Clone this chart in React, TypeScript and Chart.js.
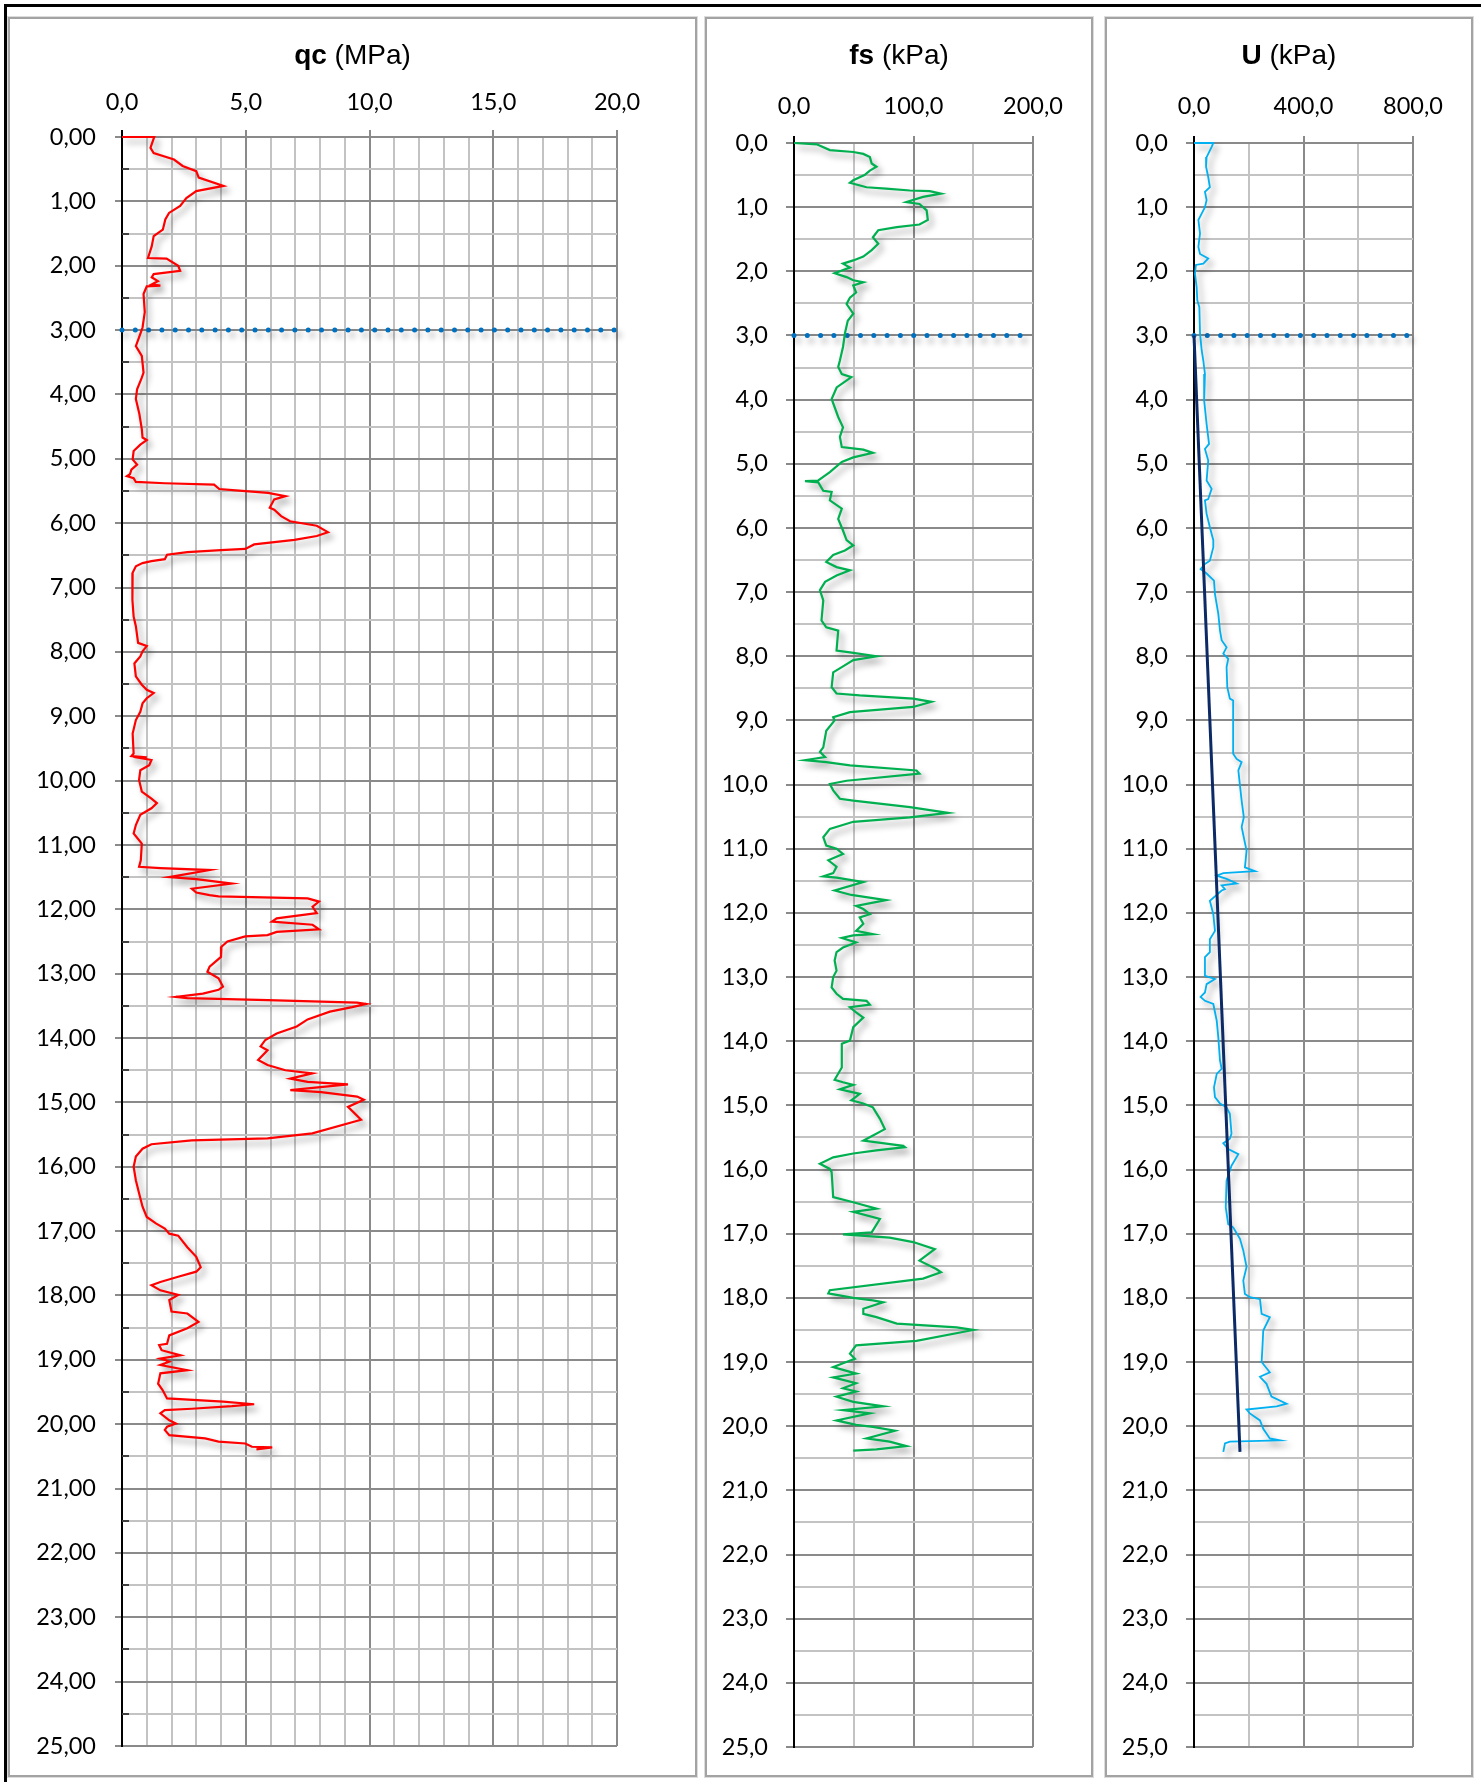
import React, { useEffect, useRef } from 'react';
import { Chart, registerables } from 'chart.js';

Chart.register(...registerables);

// ---- Cone resistance qc (MPa) vs depth (m) ----
const QC_DEPTH = [
  0.0, 0.0, 0.17, 0.25, 0.35, 0.45, 0.53, 0.63, 0.76, 0.84, 0.95, 1.07, 1.18, 1.28, 1.44, 1.54, 1.7, 1.88, 1.89, 2.0,
  2.08, 2.13, 2.18, 2.24, 2.29, 2.31, 2.32, 2.44, 2.72, 2.96, 3.06, 3.25, 3.4, 3.66, 3.74, 3.92, 4.07, 4.3, 4.54, 4.67,
  4.71, 4.78, 4.88, 5.01, 5.09, 5.17, 5.24, 5.27, 5.3, 5.36, 5.38, 5.4, 5.47, 5.49, 5.53, 5.58, 5.63, 5.76, 5.79, 5.89,
  5.97, 6.04, 6.14, 6.2, 6.26, 6.33, 6.4, 6.42, 6.45, 6.49, 6.56, 6.59, 6.62, 6.67, 6.77, 7.19, 7.45, 7.6, 7.86, 7.91,
  7.99, 8.07, 8.18, 8.38, 8.51, 8.59, 8.64, 8.72, 8.8, 8.93, 9.06, 9.27, 9.58, 9.62, 9.64, 9.65, 9.68, 9.76, 9.84, 9.99,
  10.17, 10.28, 10.35, 10.43, 10.53, 10.69, 10.82, 10.98, 11.24, 11.34, 11.36, 11.39, 11.5, 11.53, 11.6, 11.68, 11.74, 11.78, 11.8, 11.83,
  11.88, 11.96, 12.06, 12.14, 12.19, 12.24, 12.31, 12.35, 12.4, 12.42, 12.5, 12.58, 12.74, 12.89, 12.97, 13.07, 13.2, 13.25, 13.31, 13.36,
  13.38, 13.41, 13.45, 13.47, 13.52, 13.59, 13.71, 13.82, 13.93, 14.03, 14.13, 14.19, 14.34, 14.42, 14.5, 14.55, 14.63, 14.68, 14.72, 14.81,
  14.84, 14.91, 14.96, 15.07, 15.17, 15.27, 15.48, 15.56, 15.59, 15.65, 15.72, 15.84, 16.0, 16.21, 16.41, 16.62, 16.78, 16.88, 16.96, 17.04,
  17.07, 17.25, 17.4, 17.56, 17.63, 17.71, 17.79, 17.84, 17.92, 17.99, 18.07, 18.25, 18.28, 18.41, 18.51, 18.62, 18.75, 18.77, 18.85, 18.93,
  18.98, 19.0, 19.03, 19.08, 19.16, 19.21, 19.37, 19.47, 19.6, 19.65, 19.69, 19.72, 19.76, 19.78, 19.83, 19.94, 19.99, 20.04, 20.09, 20.17,
  20.22, 20.27, 20.3, 20.35, 20.36, 20.39,
];
const QC_VALUE = [
  0.0, 1.3, 1.15, 1.28, 2.1, 2.45, 3.0, 3.1, 4.1, 3.0, 2.6, 2.35, 1.9, 1.75, 1.65, 1.28, 1.2, 1.05, 1.8, 2.27,
  2.35, 1.28, 1.2, 1.45, 1.2, 1.55, 1.0, 0.87, 0.92, 0.83, 0.74, 0.56, 0.8, 0.87, 0.8, 0.61, 0.56, 0.7, 0.8, 0.83,
  1.0, 0.74, 0.47, 0.43, 0.61, 0.38, 0.32, 0.2, 0.47, 0.56, 1.73, 3.72, 3.93, 4.6, 5.9, 6.6, 6.15, 5.97, 6.15, 6.43,
  6.79, 7.87, 8.32, 7.87, 6.97, 5.34, 4.98, 4.0, 2.64, 1.82, 1.73, 1.19, 0.83, 0.56, 0.43, 0.42, 0.47, 0.56, 0.65, 1.0,
  0.83, 0.74, 0.5, 0.56, 0.8, 1.0, 1.28, 1.0, 0.83, 0.74, 0.56, 0.43, 0.47, 0.38, 1.0, 0.74, 1.19, 1.1, 0.74, 0.69,
  0.8, 1.19, 1.41, 1.19, 0.74, 0.56, 0.47, 0.8, 0.76, 0.69, 1.55, 3.54, 1.91, 3.0, 4.44, 2.82, 3.0, 3.54, 3.9, 7.5,
  7.96, 7.7, 7.87, 6.25, 6.06, 7.7, 7.96, 6.25, 5.88, 4.98, 4.26, 4.02, 4.0, 3.54, 3.45, 3.9, 4.08, 3.9, 3.27, 2.18,
  2.64, 5.88, 9.5, 9.86, 9.3, 8.4, 7.5, 7.06, 6.25, 5.79, 5.6, 5.88, 5.5, 5.88, 6.6, 7.69, 6.8, 7.5, 9.13, 6.8,
  8.05, 9.5, 9.77, 9.13, 9.4, 9.66, 7.69, 5.88, 2.82, 1.19, 0.83, 0.56, 0.47, 0.56, 0.69, 0.83, 1.0, 1.37, 1.73, 1.91,
  2.27, 2.64, 3.0, 3.18, 3.0, 2.27, 1.55, 1.19, 1.55, 2.27, 1.91, 2.0, 2.64, 3.09, 2.64, 1.91, 1.82, 1.5, 1.6, 2.36,
  1.55, 1.73, 1.91, 1.55, 2.64, 1.55, 1.46, 1.64, 1.82, 4.08, 5.34, 4.44, 2.82, 1.73, 1.55, 1.91, 2.18, 1.82, 1.73, 1.91,
  3.36, 3.9, 4.98, 5.25, 6.07, 5.43,
];

// ---- Sleeve friction fs (kPa) vs depth (m) ----
const FS_DEPTH = [
  0.0, 0.02, 0.11, 0.14, 0.17, 0.22, 0.32, 0.37, 0.43, 0.5, 0.58, 0.62, 0.69, 0.71, 0.74, 0.75, 0.79, 0.84, 0.92, 0.95,
  1.05, 1.2, 1.27, 1.31, 1.36, 1.47, 1.57, 1.67, 1.77, 1.83, 1.88, 1.94, 2.03, 2.09, 2.14, 2.17, 2.22, 2.33, 2.41, 2.51,
  2.66, 2.77, 2.97, 3.18, 3.39, 3.49, 3.6, 3.65, 3.81, 3.99, 4.27, 4.43, 4.58, 4.74, 4.78, 4.83, 4.9, 4.97, 5.13, 5.26,
  5.27, 5.29, 5.42, 5.44, 5.57, 5.7, 5.86, 6.04, 6.19, 6.27, 6.35, 6.42, 6.53, 6.61, 6.66, 6.74, 6.84, 6.97, 7.13, 7.44,
  7.55, 7.6, 7.91, 7.94, 8.0, 8.06, 8.17, 8.25, 8.48, 8.58, 8.61, 8.66, 8.71, 8.79, 8.87, 8.95, 9.0, 9.16, 9.42, 9.49,
  9.57, 9.62, 9.65, 9.7, 9.78, 9.83, 9.94, 9.99, 10.09, 10.22, 10.25, 10.35, 10.44, 10.51, 10.58, 10.69, 10.82, 10.95, 11.0, 11.08,
  11.18, 11.28, 11.38, 11.43, 11.45, 11.52, 11.65, 11.72, 11.8, 11.89, 11.94, 12.02, 12.07, 12.17, 12.28, 12.33, 12.35, 12.39, 12.46, 12.54,
  12.61, 12.74, 12.9, 13.0, 13.16, 13.26, 13.34, 13.37, 13.43, 13.47, 13.55, 13.63, 13.78, 13.99, 14.04, 14.41, 14.6, 14.64, 14.68, 14.75,
  14.82, 14.92, 14.97, 15.03, 15.21, 15.37, 15.55, 15.63, 15.65, 15.7, 15.75, 15.81, 15.91, 15.99, 16.04, 16.43, 16.51, 16.61, 16.66, 16.77,
  16.98, 17.01, 17.06, 17.13, 17.24, 17.42, 17.55, 17.6, 17.7, 17.88, 17.93, 18.0, 18.04, 18.07, 18.17, 18.25, 18.3, 18.4, 18.46, 18.5,
  18.67, 18.74, 18.87, 18.95, 19.02, 19.08, 19.18, 19.24, 19.33, 19.41, 19.46, 19.54, 19.62, 19.69, 19.75, 19.8, 19.91, 19.98, 20.01, 20.07,
  20.19, 20.24, 20.31, 20.36, 20.38,
];
const FS_VALUE = [
  0, 19, 30, 49.6, 58, 63.5, 65, 69, 63.5, 59, 49.6, 46.8, 60.7, 77, 97, 113.6, 123, 108, 94, 105,
  111, 112, 105, 86, 70.5, 66, 70.5, 65, 58, 49.6, 41, 46.8, 34, 44, 49.6, 58, 49.6, 52, 46.8, 44,
  49.6, 45, 42.6, 41, 38.4, 37, 40, 48, 35.7, 31.5, 37, 41, 38.4, 40, 58, 66, 49.6, 40, 30, 20.3,
  9.2, 20.3, 24.5, 31.5, 30, 40, 37, 41, 44, 49.6, 42.6, 32.8, 27, 35.6, 46.8, 35.6, 26, 21.7, 24.5, 23,
  27, 37, 35.6, 46.8, 69, 49.6, 40, 32.8, 31.5, 35.6, 55, 99.7, 115, 99.7, 46.8, 32.8, 34, 27, 24.5, 21.7,
  26, 9.2, 27, 46.8, 102.5, 105, 44, 30, 32.8, 38.4, 49.6, 97, 129, 97, 49.6, 30, 24.5, 27, 35.6, 41,
  28.7, 35.6, 32.8, 24.5, 35.6, 58, 34, 48, 77, 52, 58, 63.5, 55, 58, 52, 66, 49.6, 40, 52, 41,
  35.6, 34, 35.6, 32.8, 31.5, 35.6, 41, 60.7, 63.5, 46.8, 52, 58, 49.6, 46.8, 40, 40, 34, 41, 49.6, 38.4,
  55, 48, 58, 66, 71.9, 76, 58, 91.4, 92.8, 69, 49.6, 32.8, 21.7, 30, 31.5, 32.8, 49.6, 69, 49.6, 71.9,
  65, 41, 80, 99.7, 117.8, 105, 119, 123, 108, 30, 28.7, 49.6, 66, 74.6, 58, 58, 69, 86, 136, 150,
  102.5, 52, 46.8, 51, 41, 32.8, 52, 32.8, 52, 41, 52, 35.6, 49.6, 74.6, 41, 63.5, 35.6, 52, 66, 84.4,
  60.7, 80, 94, 69, 49.6,
];

// ---- Pore pressure U (kPa) vs depth (m) ----
const U_DEPTH = [
  0.0, 0.0, 0.06, 0.22, 0.37, 0.53, 0.69, 0.76, 0.89, 1.0, 1.1, 1.2, 1.41, 1.62, 1.73, 1.8, 1.88, 1.9, 2.04, 2.25,
  2.45, 2.56, 2.97, 3.23, 3.39, 3.6, 4.01, 4.38, 4.69, 4.77, 4.95, 5.26, 5.39, 5.55, 5.57, 5.78, 5.99, 6.19, 6.3, 6.51,
  6.56, 6.64, 6.71, 6.82, 7.03, 7.34, 7.6, 7.75, 7.86, 7.96, 8.04, 8.17, 8.48, 8.66, 8.69, 9.52, 9.6, 9.65, 9.78, 10.25,
  10.51, 10.66, 11.03, 11.29, 11.35, 11.38, 11.42, 11.47, 11.54, 11.57, 11.63, 11.65, 11.81, 12.02, 12.28, 12.41, 12.61, 12.69, 12.98, 13.03,
  13.11, 13.24, 13.31, 13.37, 13.42, 13.68, 13.94, 14.3, 14.43, 14.51, 14.72, 14.87, 14.97, 15.03, 15.13, 15.44, 15.52, 15.59, 15.68, 15.76,
  15.94, 16.17, 16.59, 16.85, 16.9, 17.08, 17.26, 17.52, 17.73, 17.94, 17.99, 18.02, 18.25, 18.3, 18.51, 18.77, 19.0, 19.16, 19.23, 19.34,
  19.54, 19.65, 19.69, 19.74, 19.8, 19.91, 20.04, 20.19, 20.22, 20.24, 20.27, 20.4,
];
const U_VALUE = [
  0, 70.5, 64.5, 46, 44, 52, 58, 40, 46, 40, 28, 16, 22, 16, 22, 52, 34, 7, 3.6, 9.7,
  12, 19.5, 22, 28, 34, 40, 37, 46, 55, 40, 52, 46, 64.5, 52, 40, 46, 58, 70.5, 70.5, 58,
  40, 24, 46, 73, 76.6, 88.8, 95, 101, 119, 107, 125, 119, 121.6, 131, 143, 143, 155.7, 174, 162, 174,
  182, 174, 192, 186, 222.5, 107, 83, 119, 155.7, 101, 113, 101, 58, 70.5, 76.6, 58, 58, 40, 40, 76.6,
  46, 40, 24, 40, 70.5, 83, 88.8, 95, 101, 83, 73, 76.6, 95, 119, 131, 137, 131, 107, 125, 162,
  137, 119, 116, 125, 143, 168, 180, 192, 180, 186, 204, 241, 247, 277, 253, 250, 247, 277, 241, 265,
  283, 338, 302, 192, 204, 241, 253, 277, 314, 131, 113, 107,
];

// Hydrostatic pressure line below the water table
const U0_DEPTH = [3.0, 20.4];
const U0_VALUE = [0, 168];

// Water table depth (m)
const WATER_TABLE = [3.0, 3.0];

// Axis ranges and tick steps
const DEPTH_RANGE = [0, 25];
const DEPTH_STEP = [0.5, 1];
const QC_RANGE = [0, 20];
const QC_STEP = [1, 5];
const FS_RANGE = [0, 200];
const FS_STEP = [50, 100];
const U_RANGE = [0, 800];
const U_STEP = [200, 400];

const MAJOR_GRID = '#8a8a8a';
const MINOR_GRID = '#c3c3c3';
const TICK_FONT = { family: 'Lato, "Open Sans", sans-serif', size: 23.5 };

const toPoints = (xs: number[], ys: number[]) => xs.map((x, i) => ({ x, y: ys[i] }));
const isMultiple = (v: number, step: number) => Math.abs(v / step - Math.round(v / step)) < 1e-6;
const comma = (v: number, d: number) => Number(v).toFixed(d).replace('.', ',');

// Soft drop shadow under the plotted traces
const shadowPlugin = {
  id: 'traceShadow',
  beforeDatasetDraw(chart: any, args: any) {
    const ds = chart.data.datasets[args.index];
    if (!ds.shadow) return;
    const ctx = chart.ctx;
    ctx.save();
    ctx.shadowColor = 'rgba(0,0,0,0.4)';
    ctx.shadowBlur = 6;
    ctx.shadowOffsetX = 4;
    ctx.shadowOffsetY = 5;
  },
  afterDatasetDraw(chart: any, args: any) {
    const ds = chart.data.datasets[args.index];
    if (!ds.shadow) return;
    chart.ctx.restore();
  },
};

// Short inside tick marks on the depth axis at half metres
const innerTickPlugin = {
  id: 'innerDepthTicks',
  beforeDatasetsDraw(chart: any) {
    if (!chart.options.plugins.innerDepthTicks?.enabled) return;
    const y = chart.scales.y;
    const left = chart.chartArea.left;
    const ctx = chart.ctx;
    ctx.save();
    ctx.strokeStyle = '#404040';
    ctx.lineWidth = 2;
    y.ticks.forEach((t: any) => {
      if (isMultiple(t.value, DEPTH_STEP[1])) return;
      const py = Math.round(y.getPixelForValue(t.value));
      ctx.beginPath();
      ctx.moveTo(left, py);
      ctx.lineTo(left + 7, py);
      ctx.stroke();
    });
    ctx.restore();
  },
};

type PanelSpec = {
  left: number;
  width: number;
  bold: string;
  unit: string;
  range: number[];
  step: number[];
  depthDecimals: number;
  yWidth: number;
  padRight: number;
  topArea: number;
  padBottom: number;
  xTickPad: number;
  yTickLen: number;
  yTickPad: number;
  innerTicks: boolean;
  datasets: any[];
};

const PANEL_TOP = 17;
const PANEL_HEIGHT = 1760;
const BORDER = 2;

function Panel({ spec }: { spec: PanelSpec }) {
  const ref = useRef<HTMLCanvasElement>(null);
  const w = spec.width - 2 * BORDER;
  const h = PANEL_HEIGHT - 2 * BORDER;

  useEffect(() => {
    if (!ref.current) return;
    const [minStep, majStep] = spec.step;
    const chart = new Chart(ref.current, {
      type: 'scatter',
      data: { datasets: spec.datasets },
      plugins: [shadowPlugin, innerTickPlugin],
      options: {
        animation: false,
        responsive: false,
        maintainAspectRatio: false,
        devicePixelRatio: 1,
        events: [],
        layout: { padding: { left: 0, top: 0, right: spec.padRight, bottom: spec.padBottom } },
        plugins: {
          legend: { display: false },
          tooltip: { enabled: false },
          title: { display: false },
          innerDepthTicks: { enabled: spec.innerTicks },
        } as any,
        scales: {
          x: {
            type: 'linear',
            position: 'top',
            min: spec.range[0],
            max: spec.range[1],
            afterFit: (s: any) => {
              s.height = spec.topArea;
              s.paddingLeft = 0;
              s.paddingRight = 0;
            },
            ticks: {
              stepSize: minStep,
              autoSkip: false,
              maxRotation: 0,
              padding: spec.xTickPad,
              color: '#000',
              font: TICK_FONT,
              callback: (v: any) => (isMultiple(Number(v), majStep) ? comma(Number(v), 1) : ''),
            },
            grid: {
              lineWidth: 2,
              tickLength: 7,
              color: (c: any) => {
                const v = c.tick ? c.tick.value : 0;
                if (Math.abs(v - spec.range[0]) < 1e-9) return '#000';
                return isMultiple(v, majStep) ? MAJOR_GRID : MINOR_GRID;
              },
              tickColor: (c: any) => {
                const v = c.tick ? c.tick.value : 0;
                if (Math.abs(v - spec.range[0]) < 1e-9) return '#000';
                return isMultiple(v, majStep) ? MAJOR_GRID : 'rgba(0,0,0,0)';
              },
            },
            border: { display: true, color: MAJOR_GRID, width: 2 },
          },
          y: {
            type: 'linear',
            position: 'left',
            reverse: true,
            min: DEPTH_RANGE[0],
            max: DEPTH_RANGE[1],
            afterFit: (s: any) => {
              s.width = spec.yWidth;
              s.paddingTop = 0;
              s.paddingBottom = 0;
            },
            ticks: {
              stepSize: DEPTH_STEP[0],
              autoSkip: false,
              padding: spec.yTickPad,
              color: '#000',
              font: TICK_FONT,
              callback: (v: any) =>
                isMultiple(Number(v), DEPTH_STEP[1]) ? comma(Number(v), spec.depthDecimals) : '',
            },
            grid: {
              lineWidth: 2,
              tickLength: spec.yTickLen,
              color: (c: any) => (isMultiple(c.tick ? c.tick.value : 0, DEPTH_STEP[1]) ? MAJOR_GRID : MINOR_GRID),
              tickColor: (c: any) =>
                isMultiple(c.tick ? c.tick.value : 0, DEPTH_STEP[1]) ? MAJOR_GRID : 'rgba(0,0,0,0)',
            },
            border: { display: true, color: '#000', width: 2 },
          },
        },
      } as any,
    });
    return () => chart.destroy();
  }, []);

  return (
    <div
      style={{
        position: 'absolute',
        left: spec.left,
        top: PANEL_TOP,
        width: spec.width,
        height: PANEL_HEIGHT,
        boxSizing: 'border-box',
        border: `${BORDER}px solid #a3a3a3`,
        boxShadow: '0 0 0 1px #dcdcdc',
        background: '#fff',
      }}
    >
      <canvas
        ref={ref}
        width={w}
        height={h}
        style={{ position: 'absolute', left: 0, top: 0, width: w, height: h }}
      />
      <div
        style={{
          position: 'absolute',
          left: 0,
          top: 22,
          width: w,
          height: 28,
          lineHeight: '28px',
          textAlign: 'center',
          fontFamily: '"Liberation Sans", Arial, sans-serif',
          fontSize: 28,
          color: '#000',
          whiteSpace: 'nowrap',
        }}
      >
        <b>{spec.bold}</b> {spec.unit}
      </div>
    </div>
  );
}

const trace = (label: string, xs: number[], ys: number[], color: string, width: number, shadow: boolean) => ({
  label,
  data: toPoints(xs, ys),
  showLine: true,
  borderColor: color,
  borderWidth: width,
  pointRadius: 0,
  tension: 0,
  fill: false,
  clip: false,
  shadow,
});

const waterLine = (range: number[]) => ({
  label: 'GWT',
  data: toPoints(range, WATER_TABLE),
  showLine: true,
  borderColor: '#0070C0',
  borderWidth: 5,
  borderDash: [0, 13.3],
  borderCapStyle: 'round',
  pointRadius: 0,
  fill: false,
  clip: false,
  shadow: true,
});

const PANELS: PanelSpec[] = [
  {
    left: 8,
    width: 689,
    bold: 'qc',
    unit: '(MPa)',
    range: QC_RANGE,
    step: QC_STEP,
    depthDecimals: 2,
    yWidth: 112,
    padRight: 78,
    topArea: 118,
    padBottom: 29,
    xTickPad: 13,
    yTickLen: 7,
    yTickPad: 19,
    innerTicks: true,
    datasets: [trace('qc', QC_VALUE, QC_DEPTH, '#FF0000', 2.2, true), waterLine(QC_RANGE)],
  },
  {
    left: 705,
    width: 388,
    bold: 'fs',
    unit: '(kPa)',
    range: FS_RANGE,
    step: FS_STEP,
    depthDecimals: 1,
    yWidth: 87,
    padRight: 58,
    topArea: 124,
    padBottom: 28,
    xTickPad: 15,
    yTickLen: 8,
    yTickPad: 18,
    innerTicks: false,
    datasets: [trace('fs', FS_VALUE, FS_DEPTH, '#00B050', 2.2, true), waterLine(FS_RANGE)],
  },
  {
    left: 1105,
    width: 368,
    bold: 'U',
    unit: '(kPa)',
    range: U_RANGE,
    step: U_STEP,
    depthDecimals: 1,
    yWidth: 87,
    padRight: 58,
    topArea: 124,
    padBottom: 28,
    xTickPad: 15,
    yTickLen: 8,
    yTickPad: 18,
    innerTicks: false,
    datasets: [
      trace('u0', U0_VALUE, U0_DEPTH, '#0C2A66', 3, false),
      trace('U', U_VALUE, U_DEPTH, '#00B0F0', 1.8, true),
      waterLine(U_RANGE),
    ],
  },
];

export default function App() {
  return (
    <div
      style={{
        position: 'absolute',
        left: 0,
        top: 0,
        width: 1481,
        height: 1782,
        overflow: 'hidden',
        background: '#fff',
      }}
    >
      <div
        style={{
          position: 'absolute',
          left: 4,
          top: 4,
          right: 0,
          bottom: 0,
          borderTop: '3px solid #000',
          borderLeft: '3px solid #000',
        }}
      />
      {PANELS.map((p) => (
        <Panel key={p.bold} spec={p} />
      ))}
    </div>
  );
}
